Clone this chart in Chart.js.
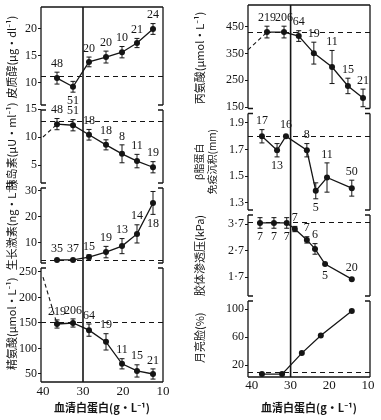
<!DOCTYPE html>
<html><head><meta charset="utf-8">
<script src="https://cdn.jsdelivr.net/npm/chart.js@4.4.0/dist/chart.umd.min.js"></script>
<style>
html,body{margin:0;padding:0;background:#fff;}
#wrap{position:relative;width:381px;height:420px;overflow:hidden;}
canvas{position:absolute;top:0;}
</style></head><body>
<div id="wrap">
<canvas id="left" width="190" height="420" style="left:0;width:190px;height:420px"></canvas>
<canvas id="right" width="191" height="420" style="left:190px;width:191px;height:420px"></canvas>
</div>
<script>
// ---------------- data ----------------
const xTicks = [40, 30, 20, 10];
const albuminCutoff = 30;
const xTitle = '血清白蛋白(g·L⁻¹)';

// left column (same albumin groups in all four panels)
const leftAlbumin = [36.5, 32.5, 28.5, 24.25, 20.25, 16.5, 12.5];

const cortisol = [10.9, 9.3, 13.9, 14.8, 15.7, 17.4, 20.0];
const cortisolErr = [1.1, 1.0, 0.9, 1.1, 1.05, 0.85, 1.0];
const cortisolN = ['48', '51', '20', '20', '10', '21', '24'];
const cortisolRef = 11.3;
const cortisolTicks = [10, 15, 20];

const insulin = [12.3, 12.1, 10.4, 8.6, 7.0, 5.7, 4.6];
const insulinErr = [1.0, 1.0, 0.95, 0.9, 1.6, 1.2, 1.0];
const insulinN = ['48', '51', '18', '18', '8', '11', '19'];
const insulinRef = 12.9;
const insulinLeadIn = { x: 40, y: 10 };
const insulinTicks = [5, 10, 15];

const growthHormone = [3.5, 3.5, 4.6, 6.5, 8.8, 13.5, 25.4];
const growthHormoneErr = [0, 0, 0.8, 2.2, 2.9, 3.5, 4.4];
const growthHormoneN = ['35', '37', '15', '19', '13', '14', '18'];
const growthHormoneRef = 3.5;
const growthHormoneTicks = [10, 20, 30];

const arginine = [148, 150, 136, 113, 70, 56, 50];
const arginineErr = [8, 8, 12, 16, 10, 12, 10];
const arginineN = ['219', '206', '64', '19', '11', '15', '21'];
const arginineRef = 152;
const arginineLeadIn = { x: 40, y: 240 };
const arginineTicks = [50, 100, 150, 200, 250];

// right column
const alanineAlbumin = [36.1, 31.7, 27.9, 24.0, 19.3, 15.2, 11.3];
const alanine = [431, 431, 416, 352, 300, 229, 184];
const alanineErr = [22, 22, 20, 41, 62, 29, 33];
const alanineN = ['219', '206', '64', '19', '11', '15', '21'];
const alanineRef = 432;
const alanineLeadIn = { x: 41, y: 364 };
const alanineTicks = [150, 250, 350, 450];

const lipoAlbumin = [37.4, 33.5, 31.2, 25.8, 23.5, 20.6, 14.2];
const lipo = [1.80, 1.695, 1.80, 1.695, 1.39, 1.49, 1.41];
const lipoErr = [0.05, 0.05, 0, 0.05, 0.06, 0.11, 0.06];
const lipoN = ['17', '13', '16', '8', '5', '11', '50'];
const lipoRef = 1.80;
const lipoTicks = [1.3, 1.5, 1.7, 1.9];

const oncoticAlbumin = [37.9, 34.3, 31.0, 28.9, 25.8, 23.7, 21.1, 14.2];
const oncotic = [3.74, 3.74, 3.74, 3.51, 3.10, 2.76, 2.19, 1.62];
const oncoticErr = [0.2, 0.2, 0.2, 0.1, 0.12, 0.2, 0, 0];
const oncoticN = ['7', '7', '7', '7', '7', '6', '5', '20'];
const oncoticRef = 3.78;
const oncoticTicks = [1.7, 2.7, 3.7];
const oncoticTickLabels = ['1·7', '2·7', '3·7'];

const moonAlbumin = [37.4, 32.2, 27.1, 22.2, 14.2];
const moonFace = [7, 7, 37, 62, 97];
const moonFaceRef = 10.4;
const moonFaceTicks = [20, 60, 100];

// ---------------- styling / layout ----------------
const SERIF = "'Liberation Serif', 'DejaVu Serif', serif";
const CJK = "'Noto Sans CJK SC', 'Noto Sans', sans-serif";
const INK = '#151515';

const leftCfg = {
  canvas: 'left', xMin: 10, xMax: 40.5, yAxisWidth: 41, padTop: 7, padRight: 27,
  xAxisHeight: 38, xTickPad: 2,
  panels: [
    { id: 'y1', title: '皮质醇(μg·dl⁻¹)', x: leftAlbumin, v: cortisol, e: cortisolErr, n: cortisolN,
      pos: ['a', 'b', 'a', 'a', 'a', 'a', 'a'], ref: cortisolRef, ticks: cortisolTicks, min: 5.46, max: 24.07, w: 100.5, tpad: 5 },
    { id: 'y2', title: '胰岛素(μU·ml⁻¹)', x: leftAlbumin, v: insulin, e: insulinErr, n: insulinN,
      pos: ['a', 'a', 'a', 'a', 'a', 'a', 'a'], ref: insulinRef, lead: insulinLeadIn, ticks: insulinTicks, min: 1.34, max: 15.27, w: 78, tpad: 5 },
    { id: 'y3', title: '生长激素(ng·L⁻¹)', x: leftAlbumin, v: growthHormone, e: growthHormoneErr, n: growthHormoneN,
      pos: ['a', 'a', 'a', 'a', 'a', 'a', 'b'], ref: growthHormoneRef, ticks: growthHormoneTicks, min: 1.35, max: 32.1, w: 80, tpad: 5 },
    { id: 'y4', title: '精氨酸(μmol·L⁻¹)', x: leftAlbumin, v: arginine, e: arginineErr, n: arginineN,
      pos: ['a', 'a', 'a', 'a', 'a', 'a', 'a'], ref: arginineRef, lead: arginineLeadIn, ticks: arginineTicks, min: 34.3, max: 262.7, w: 116.5, tpad: 5 }
  ]
};

const rightCfg = {
  canvas: 'right', xMin: 9.5, xMax: 41, yAxisWidth: 58, padTop: 5, padRight: 11,
  xAxisHeight: 43, xTickPad: 1,
  panels: [
    { id: 'r1', title: '丙氨酸(μmol·L⁻¹)', x: alanineAlbumin, v: alanine, e: alanineErr, n: alanineN,
      pos: ['a', 'a', 'a', 'a', 'a', 'a', 'a'], ref: alanineRef, lead: alanineLeadIn, ticks: alanineTicks, min: 135, max: 532.5, w: 106, tpad: 3 },
    { id: 'r2', title: ['β脂蛋白', '免疫沉积(mm)'], x: lipoAlbumin, v: lipo, e: lipoErr, n: lipoN,
      pos: ['a', 'b', 'a', 'a', 'b', 'a', 'a'], ref: lipoRef, ticks: lipoTicks, min: 1.227, max: 1.99, w: 101.5, tpad: 3, tsize: 10, tlh: 1.25 },
    { id: 'r3', title: '胶体渗透压(kPa)', x: oncoticAlbumin, v: oncotic, e: oncoticErr, n: oncoticN,
      pos: ['b', 'b', 'b', 'a', 'a', 'a', 'b', 'a'], ref: oncoticRef, ticks: oncoticTicks, tickLabels: oncoticTickLabels, min: 0.889, max: 4.134, w: 86, tpad: 3 },
    { id: 'r4', title: '月亮脸(%)', x: moonAlbumin, v: moonFace, ref: moonFaceRef, ticks: moonFaceTicks, min: 2.86, max: 115, w: 78.5, tpad: 3 }
  ]
};

// ---------------- plugin: frames, reference lines, error bars, n labels ----------------
const panelPlugin = {
  id: 'panelPlugin',
  beforeDatasetsDraw(chart) {
    const cfg = chart.$cfg, ctx = chart.ctx, ca = chart.chartArea;
    ctx.save();
    ctx.strokeStyle = INK; ctx.lineWidth = 1;
    ctx.setLineDash([5, 4]);
    cfg.panels.forEach(p => {
      const y = Math.round(chart.scales[p.id].getPixelForValue(p.ref)) + 0.5;
      ctx.beginPath(); ctx.moveTo(ca.left, y); ctx.lineTo(ca.right, y); ctx.stroke();
    });
    ctx.setLineDash([]);
    const vx = chart.scales.x.getPixelForValue(albuminCutoff);
    ctx.lineWidth = 1.6;
    ctx.beginPath(); ctx.moveTo(vx, ca.top); ctx.lineTo(vx, ca.bottom); ctx.stroke();
    ctx.restore();
  },
  afterDatasetsDraw(chart) {
    const cfg = chart.$cfg, ctx = chart.ctx, xs = chart.scales.x;
    ctx.save();
    ctx.strokeStyle = INK; ctx.fillStyle = INK; ctx.lineWidth = 1;
    ctx.font = "12px " + SERIF;
    ctx.textAlign = 'center'; ctx.textBaseline = 'middle';
    cfg.panels.forEach(p => {
      const ys = chart.scales[p.id];
      p.v.forEach((v, i) => {
        const px = xs.getPixelForValue(p.x[i]);
        const e = p.e ? p.e[i] : 0;
        const yTop = ys.getPixelForValue(v + e), yBot = ys.getPixelForValue(v - e);
        if (e > 0) {
          ctx.beginPath();
          ctx.moveTo(px, yTop); ctx.lineTo(px, yBot);
          ctx.moveTo(px - 2.5, yTop); ctx.lineTo(px + 2.5, yTop);
          ctx.moveTo(px - 2.5, yBot); ctx.lineTo(px + 2.5, yBot);
          ctx.stroke();
        }
        if (p.n) {
          const below = p.pos[i] === 'b';
          const ly = below ? (e > 0 ? yBot + 9 : yBot + 12) : (e > 0 ? yTop - 8.5 : yTop - 11.5);
          ctx.fillText(p.n[i], px, ly);
        }
      });
    });
    ctx.restore();
  },
  afterDraw(chart) {
    const cfg = chart.$cfg, ctx = chart.ctx, ca = chart.chartArea;
    const last = cfg.panels.length - 1, cap = 5;
    ctx.save();
    ctx.strokeStyle = INK; ctx.lineWidth = 1.3;
    cfg.panels.forEach((p, i) => {
      const s = chart.scales[p.id];
      const t = s.top + (i === 0 ? 0 : 2.5), b = s.bottom - (i === last ? 0 : 2.5);
      ctx.beginPath();
      ctx.moveTo(ca.left, t); ctx.lineTo(ca.left, b);
      ctx.moveTo(ca.right, t); ctx.lineTo(ca.right, b);
      if (i === 0) { ctx.moveTo(ca.left, t); ctx.lineTo(ca.right, t); }
      else { ctx.moveTo(ca.left, t); ctx.lineTo(ca.left + cap, t); ctx.moveTo(ca.right, t); ctx.lineTo(ca.right - cap, t); }
      if (i === last) { ctx.moveTo(ca.left, b); ctx.lineTo(ca.right, b); }
      else { ctx.moveTo(ca.left, b); ctx.lineTo(ca.left + cap, b); ctx.moveTo(ca.right, b); ctx.lineTo(ca.right - cap, b); }
      ctx.stroke();
    });
    ctx.restore();
  }
};

// ---------------- build a column chart ----------------
function buildColumn(cfg) {
  const scales = {
    x: {
      type: 'linear', reverse: true, min: cfg.xMin, max: cfg.xMax,
      afterBuildTicks: s => { s.ticks = xTicks.map(v => ({ value: v })); },
      afterFit: s => { s.height = cfg.xAxisHeight; s.paddingLeft = 0; s.paddingRight = 0; },
      grid: { display: false, drawTicks: false }, border: { display: false },
      ticks: { font: { family: SERIF, size: 13 }, color: INK, padding: cfg.xTickPad, maxRotation: 0, autoSkip: false },
      title: { display: true, text: xTitle, font: { family: CJK, size: 11, weight: 'bold' }, color: INK, padding: { top: 0, bottom: 6 } }
    }
  };
  const n = cfg.panels.length;
  cfg.panels.forEach((p, i) => {
    scales[p.id] = {
      type: 'linear', position: 'left', stack: 'col', stackWeight: p.w, weight: n - i,
      min: p.min, max: p.max,
      afterBuildTicks: s => { s.ticks = p.ticks.map(v => ({ value: v })); },
      afterFit: s => { s.width = cfg.yAxisWidth; s.paddingTop = 0; s.paddingBottom = 0; },
      grid: { display: true, drawOnChartArea: false, drawTicks: true, tickLength: 3, color: INK, lineWidth: 1 },
      border: { display: false },
      ticks: {
        font: { family: SERIF, size: 12 }, color: INK, padding: 1, autoSkip: false,
        callback: (v, idx) => p.tickLabels ? p.tickLabels[idx] : String(v)
      },
      title: {
        display: true, text: p.title, color: INK,
        font: { family: CJK, size: p.tsize || 11, lineHeight: p.tlh || 1.2 },
        padding: { top: p.tpad, bottom: 0 }
      }
    };
  });
  const datasets = [];
  cfg.panels.forEach(p => {
    datasets.push({
      data: p.x.map((x, i) => ({ x: x, y: p.v[i] })), yAxisID: p.id, xAxisID: 'x',
      borderColor: INK, backgroundColor: INK, borderWidth: 1.3,
      pointRadius: 3, pointHoverRadius: 3, pointBorderWidth: 0, tension: 0, clip: false
    });
    if (p.lead) {
      datasets.push({
        data: [p.lead, { x: p.x[0], y: p.v[0] }], yAxisID: p.id, xAxisID: 'x',
        borderColor: INK, borderWidth: 1.1, borderDash: [4, 3], pointRadius: 0, tension: 0, clip: false
      });
    }
  });
  return new Chart(document.getElementById(cfg.canvas), {
    type: 'line',
    data: { datasets },
    options: {
      responsive: false, maintainAspectRatio: false, animation: false, devicePixelRatio: 1,
      layout: { padding: { top: cfg.padTop, right: cfg.padRight, bottom: 0, left: 0 } },
      plugins: { legend: { display: false }, tooltip: { enabled: false } },
      events: [],
      scales
    },
    plugins: [{ id: 'cfgHolder', beforeInit(c) { c.$cfg = cfg; } }, panelPlugin]
  });
}

buildColumn(leftCfg);
buildColumn(rightCfg);
</script>
</body></html>
